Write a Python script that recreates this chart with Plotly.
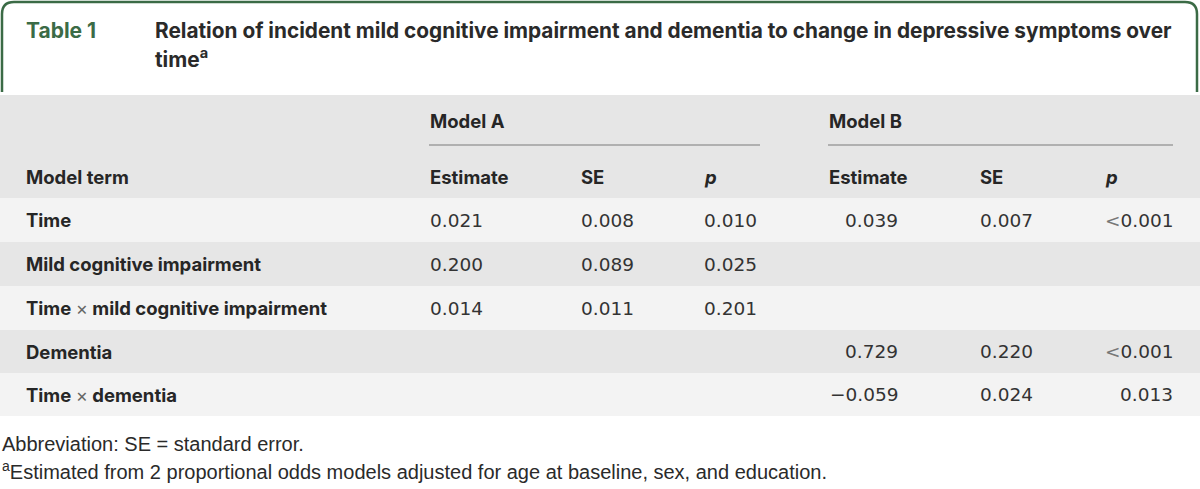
import plotly.graph_objects as go

# ---- data ----
table_label = "Table 1"
title_lines = ["Relation of incident mild cognitive impairment and dementia to change in depressive symptoms over",
               "time<sup>a</sup>"]
model_names = ["Model A", "Model B"]
col_headers = ["Estimate", "SE", "<i>p</i>"]
terms = ["Time", "Mild cognitive impairment", "Time × mild cognitive impairment", "Dementia", "Time × dementia"]
a_est = [0.021, 0.200, 0.014, None, None]
a_se = [0.008, 0.089, 0.011, None, None]
a_p = ["0.010", "0.025", "0.201", None, None]
b_est = [0.039, None, None, 0.729, -0.059]
b_se = [0.007, None, None, 0.220, 0.024]
b_p = ["<0.001", None, None, "<0.001", "0.013"]
footnotes = ["Abbreviation: SE = standard error.",
             "<sup>a</sup>Estimated from 2 proportional odds models adjusted for age at baseline, sex, and education."]

# ---- style ----
W, H = 1200, 489
GREEN = "#3b6b46"
HDR_GRAY = "#e6e6e6"
ROW_LIGHT = "#f3f3f3"
TXT = "#262626"
NUM = "#333333"
BOLD_FONT = "Inter"
NUM_FONT = "DejaVu Sans"

def fmt(v):
    if v is None:
        return ""
    s = f"{v:.3f}"
    return s.replace("-", "\u2212")

def fmt_p(s):
    if s is None:
        return ""
    if s.startswith("<"):
        return "<span style='color:#777'>&lt;</span>" + s[1:]
    return s

def bold_term(t):
    parts = t.split(" × ")
    return " <span style='font-weight:normal;color:#666'>×</span> ".join(parts)

fig = go.Figure()
fig.add_trace(go.Scatter(x=[], y=[], hoverinfo="skip", showlegend=False))

shapes = []
ann = []

# header box with green border, rounded top corners
r = 12
x0, x1, yt, yb = 2, 1197, 2, 92
path = (f"M {x0},{yb} L {x0},{yt+r} Q {x0},{yt} {x0+r},{yt} "
        f"L {x1-r},{yt} Q {x1},{yt} {x1},{yt+r} L {x1},{yb}")
shapes.append(dict(type="path", path=path, xref="x", yref="y",
                   line=dict(color=GREEN, width=2.5)))

ann.append(dict(x=24, y=30.5, text=f"<b>{table_label}</b>", xanchor="left", yanchor="middle",
                font=dict(family=BOLD_FONT, size=21, color=GREEN)))
ann.append(dict(x=153, y=30.5, text=title_lines[0], xanchor="left", yanchor="middle",
                font=dict(family=BOLD_FONT, size=20.8, color="#2a2a2a", weight="bold")))
ann.append(dict(x=153, y=57.5, text=title_lines[1], xanchor="left", yanchor="middle",
                font=dict(family=BOLD_FONT, size=20.8, color="#2a2a2a", weight="bold")))

# table header band
shapes.append(dict(type="rect", xref="x", yref="y", x0=0, x1=W, y0=95, y1=198,
                   fillcolor=HDR_GRAY, line=dict(width=0), layer="below"))

# row bands
row_edges = [198, 242, 286, 330, 373, 416]
for i in range(len(terms)):
    shapes.append(dict(type="rect", xref="x", yref="y", x0=0, x1=W,
                       y0=row_edges[i], y1=row_edges[i + 1],
                       fillcolor=ROW_LIGHT if i % 2 == 0 else HDR_GRAY,
                       line=dict(width=0), layer="below"))

hfont = dict(family=BOLD_FONT, size=18.5, color=TXT, weight="bold")
nfont = dict(family=NUM_FONT, size=18.5, color=NUM)

# model group headers and rules
groups = [(429, 760), (828, 1173)]
for name, (gx0, gx1) in zip(model_names, groups):
    ann.append(dict(x=gx0 - 1, y=121, text=name, xanchor="left", yanchor="middle", font=hfont))
    shapes.append(dict(type="line", xref="x", yref="y", x0=gx0, x1=gx1, y0=145, y1=145,
                       line=dict(color="#7a7a7a", width=1.2)))

# column headers
ann.append(dict(x=24, y=177, text="Model term", xanchor="left", yanchor="middle", font=hfont))
hdr_x = [428, 579, 702, 827, 978, 1103]
for j, x in enumerate(hdr_x):
    ann.append(dict(x=x, y=177, text=col_headers[j % 3], xanchor="left", yanchor="middle", font=hfont))

# body
for i, t in enumerate(terms):
    yc = (row_edges[i] + row_edges[i + 1]) / 2
    ann.append(dict(x=24, y=yc, text=bold_term(t), xanchor="left", yanchor="middle", font=hfont))
    cells = [(428, "left", fmt(a_est[i])), (579, "left", fmt(a_se[i])), (702, "left", fmt_p(a_p[i])),
             (900, "right", fmt(b_est[i])), (978, "left", fmt(b_se[i])), (1175, "right", fmt_p(b_p[i]))]
    for x, anc, txt in cells:
        if txt:
            ann.append(dict(x=x, y=yc, text=txt, xanchor=anc, yanchor="middle", font=nfont))

# footnotes
ffont = dict(family="Liberation Sans", size=20, color="#2a2a2a")
ann.append(dict(x=0, y=444, text=footnotes[0], xanchor="left", yanchor="middle", font=ffont))
ann.append(dict(x=0, y=470, text=footnotes[1], xanchor="left", yanchor="middle", font=ffont))

for a in ann:
    a.update(xref="x", yref="y", showarrow=False)

fig.update_layout(
    width=W, height=H, margin=dict(l=0, r=0, t=0, b=0),
    paper_bgcolor="white", plot_bgcolor="white",
    xaxis=dict(range=[0, W], visible=False, fixedrange=True),
    yaxis=dict(range=[H, 0], visible=False, fixedrange=True),
    shapes=shapes, annotations=ann, showlegend=False,
)
fig.write_html("out.html", config={"displayModeBar": False},
               post_script="document.body.style.margin='0';document.body.style.overflow='hidden';")
